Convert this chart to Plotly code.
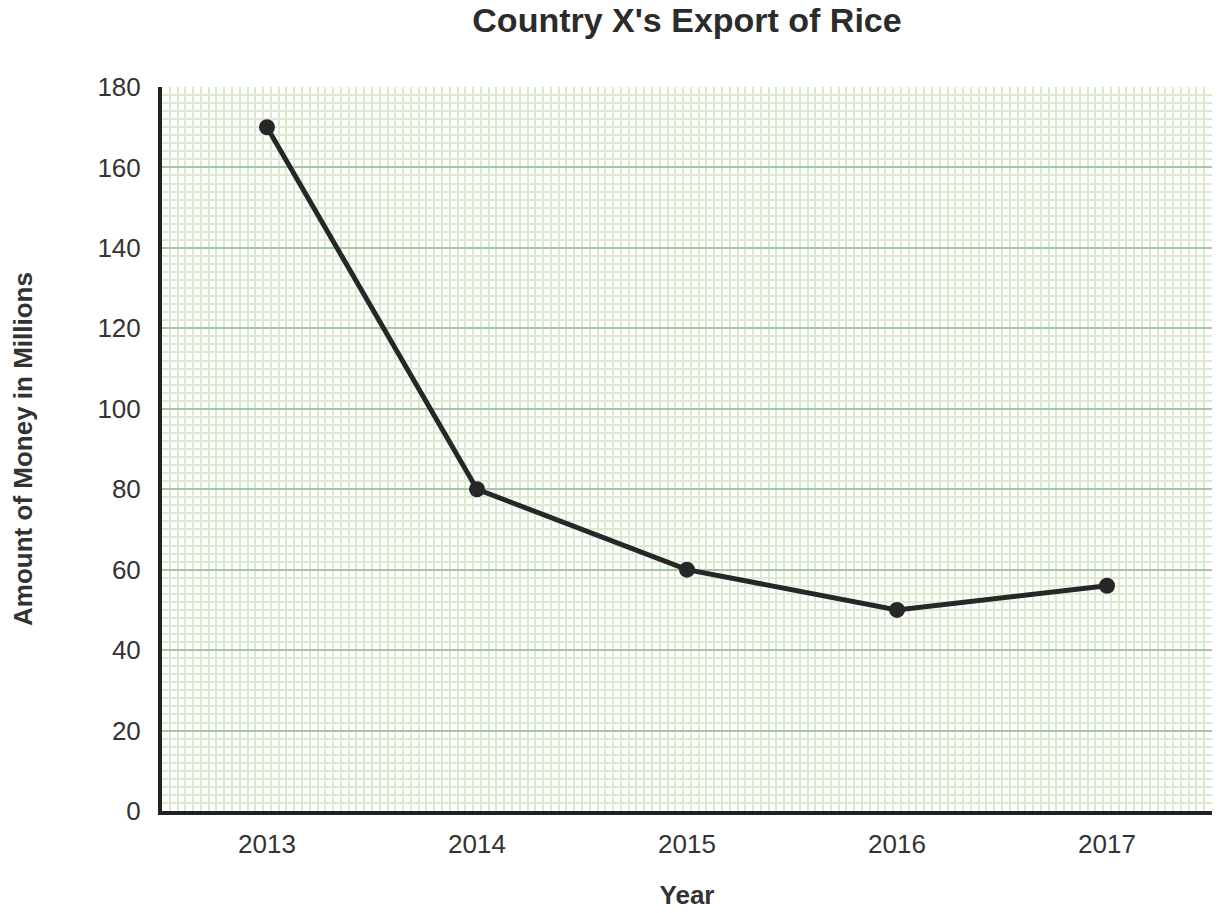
import plotly.graph_objects as go

years = ["2013", "2014", "2015", "2016", "2017"]
exports = [170, 80, 60, 50, 56]
x_pos = list(range(len(years)))

fig = go.Figure()

fig.add_trace(go.Scatter(x=x_pos, y=exports,
                         mode="lines+markers",
                         line=dict(color="#272727", width=5),
                         marker=dict(color="#272727", size=16),
                         showlegend=False))

# the page body adds an 8px offset, so margins are shifted by that
fig.update_layout(width=1220, height=913,
                  margin=dict(l=154, r=16, t=79, b=110, autoexpand=False),
                  paper_bgcolor="white",
                  plot_bgcolor="white",
                  font=dict(family="Liberation Sans, Arial, sans-serif", size=26, color="#333333"),
                  title=dict(text="<b>Country X's Export of Rice</b>",
                             xref="paper", x=0.5, xanchor="center",
                             yref="container", y=0.987, yanchor="middle",
                             font=dict(size=34, color="#2b2b2b"),
                             automargin=False))

fig.update_xaxes(range=[-0.5, 4.5],
                 tickvals=x_pos, ticktext=years,
                 showgrid=False, zeroline=False,
                 showline=True, linecolor="#222222", linewidth=4,
                 ticks="outside", ticklen=7, tickcolor="rgba(0,0,0,0)",
                 minor=dict(showgrid=True, tick0=-0.5, dtick=1 / 27,
                            gridcolor="#dcebd0", gridwidth=2),
                 title=dict(text="<b>Year</b>", standoff=29,
                            font=dict(size=26, color="#333333")),
                 automargin=False, fixedrange=True)

fig.update_yaxes(range=[0, 180], dtick=20,
                 showgrid=True, gridcolor="#a2c9a0", gridwidth=2,
                 zeroline=False,
                 showline=True, linecolor="#222222", linewidth=4,
                 ticks="outside", ticklen=12, tickcolor="rgba(0,0,0,0)",
                 minor=dict(showgrid=True, dtick=2,
                            gridcolor="#dcebd0", gridwidth=2),
                 title=dict(text="<b>Amount of Money in Millions</b>", standoff=67,
                            font=dict(size=26, color="#333333")),
                 automargin=False, fixedrange=True)

fig.write_html("out.html")
